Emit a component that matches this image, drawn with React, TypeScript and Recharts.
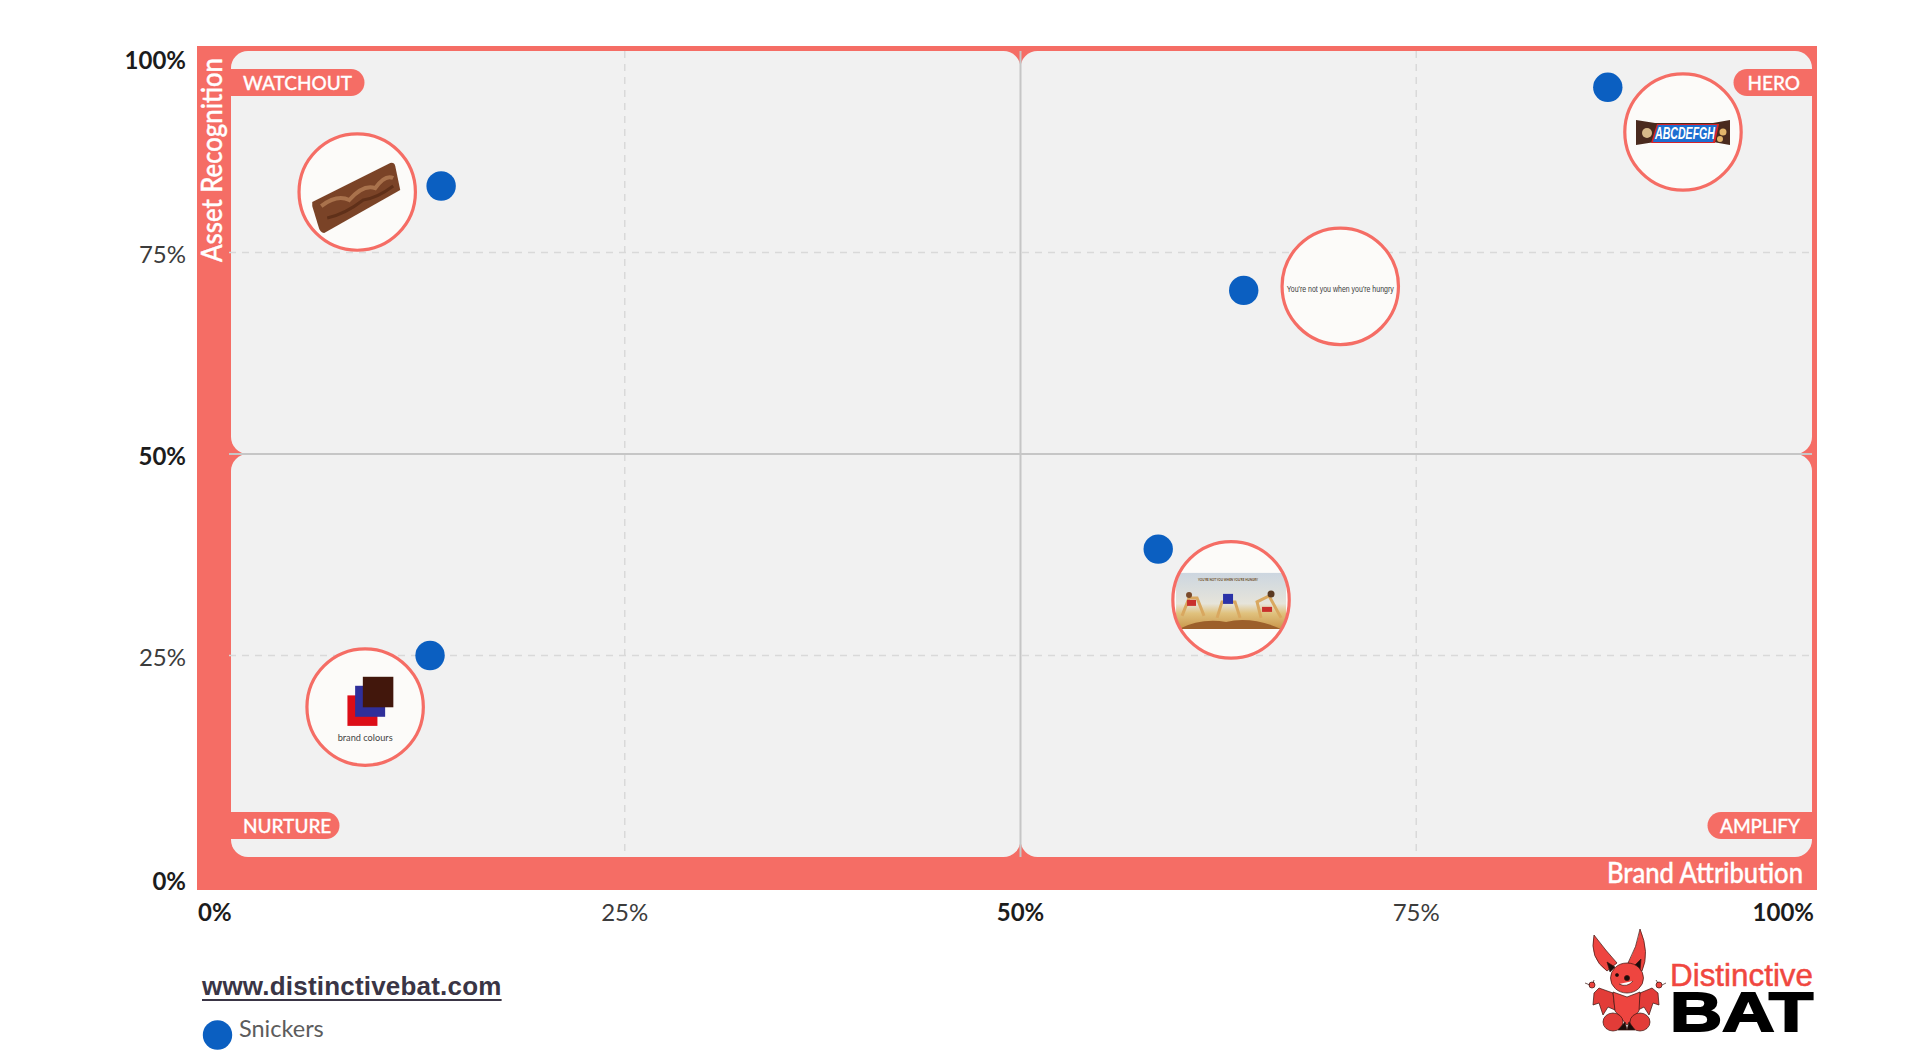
import React from 'react';
import { ScatterChart, Scatter, XAxis, YAxis, CartesianGrid, ReferenceArea, ReferenceLine, Legend } from 'recharts';

const brandName = 'Snickers';
const siteUrl = 'www.distinctivebat.com';
const xTitle = 'Brand Attribution';
const yTitle = 'Asset Recognition';

const axisTicks = [0, 25, 50, 75, 100];
const gridValues = [25, 75];

// brand attribution / asset recognition per asset
const assetX = [13.4, 87.1, 64.1, 58.7, 12.7];
const assetY = [83.25, 95.5, 70.3, 38.2, 25];

// where the asset thumbnails sit
const thumbKinds = ['bar', 'wrapper', 'tagline', 'ad', 'colours'];
const thumbX = [8.1, 91.85, 70.2, 63.3, 8.6];
const thumbY = [82.5, 89.95, 70.8, 31.9, 18.6];

const quadrantNames = ['WATCHOUT', 'HERO', 'NURTURE', 'AMPLIFY'];
const quadrantX1 = [0, 50, 0, 50];
const quadrantX2 = [50, 100, 50, 100];
const quadrantY1 = [50, 50, 0, 0];
const quadrantY2 = [100, 100, 50, 50];

const RED = '#f56d65';
const BLUE = '#0b5fc1';
const FONT = 'Lato, sans-serif';

const assets = assetX.map((x, i) => ({ x, y: assetY[i] }));
const thumbs = thumbX.map((x, i) => ({ x, y: thumbY[i], kind: thumbKinds[i] }));

function FrameShape({ x, y, width, height }: any) {
  return <rect x={x - 32} y={y - 5} width={width + 37} height={height + 38} fill={RED} />;
}

// quadrant panel, square only on the corner that meets the chart centre
function QuadrantShape({ x, y, width, height, index }: any) {
  const R = 17;
  const left = index % 2 === 0;
  const top = index < 2;
  const x1 = left ? x + 2 : x;
  const x2 = x + width;
  const y2 = y + height;
  const tl = !left && !top ? 0 : R;
  const tr = left && !top ? 0 : R;
  const br = left && top ? 0 : R;
  const bl = !left && top ? 0 : R;
  const d = [
    `M${x1 + tl},${y}`,
    `H${x2 - tr}`,
    `A${tr},${tr} 0 0 1 ${x2},${y + tr}`,
    `V${y2 - br}`,
    `A${br},${br} 0 0 1 ${x2 - br},${y2}`,
    `H${x1 + bl}`,
    `A${bl},${bl} 0 0 1 ${x1},${y2 - bl}`,
    `V${y + tl}`,
    `A${tl},${tl} 0 0 1 ${x1 + tl},${y}`,
    'Z',
  ].join(' ');
  return <path d={d} fill="#f1f1f1" />;
}

function PillShape({ x, y, width, height, index }: any) {
  const left = index % 2 === 0;
  const top = index < 2;
  const pillW = [133, 78, 108, 104][index];
  const pillY = top ? y + 18 : y + height - 45;
  const pillX = left ? x + 2 : x + width - pillW;
  const h = 27;
  const d = left
    ? `M${pillX},${pillY} H${pillX + pillW - 13} A13.5,13.5 0 0 1 ${pillX + pillW - 13},${pillY + h} H${pillX} Z`
    : `M${pillX + pillW},${pillY} H${pillX + 13} A13.5,13.5 0 0 0 ${pillX + 13},${pillY + h} H${pillX + pillW} Z`;
  return (
    <g>
      <path d={d} fill={RED} />
      <text
        x={left ? pillX + 12 : pillX + pillW - 12}
        y={pillY + h / 2 + 2.5}
        textAnchor={left ? 'start' : 'end'}
        dominantBaseline="middle"
        fill="#fff"
        stroke="#fff"
        strokeWidth={0.3}
        fontFamily={FONT}
        fontSize={19}
        fontWeight={500}
      >
        {quadrantNames[index]}
      </text>
    </g>
  );
}

function TitlesShape({ x, y, width, height }: any) {
  return (
    <g fill="#fff" stroke="#fff" strokeWidth={0.4} fontFamily={FONT} fontWeight={500} fontSize={28}>
      <text x={x + width - 9} y={y + height + 26} textAnchor="end" textLength={196} lengthAdjust="spacingAndGlyphs">
        {xTitle}
      </text>
      <text
        transform={`translate(${x - 7},${y + 211}) rotate(-90)`}
        textLength={204}
        lengthAdjust="spacingAndGlyphs"
      >
        {yTitle}
      </text>
    </g>
  );
}

function XTick({ x, y, payload, index }: any) {
  const v = payload.value;
  const anchor = index === 0 ? 'start' : v === 100 ? 'end' : 'middle';
  const dx = index === 0 ? -31 : v === 100 ? 2 : 0;
  const major = v % 50 === 0;
  return (
    <text
      x={x + dx}
      y={y + 50}
      textAnchor={anchor}
      dominantBaseline="middle"
      fontFamily={FONT}
      fontSize={24}
      fontWeight={major ? 700 : 400}
      fill={major ? '#1c1c1c' : '#3c3c3c'}
    >
      {v}%
    </text>
  );
}

function YTick({ x, y, payload }: any) {
  const v = payload.value;
  const dy = v === 0 ? 26.5 : v === 100 ? 11.5 : 4.5;
  const major = v % 50 === 0;
  return (
    <text
      x={x - 35}
      y={y + dy}
      textAnchor="end"
      dominantBaseline="middle"
      fontFamily={FONT}
      fontSize={24}
      fontWeight={major ? 700 : 400}
      fill={major ? '#1c1c1c' : '#3c3c3c'}
    >
      {v}%
    </text>
  );
}

function AssetDot({ cx, cy }: any) {
  return <circle cx={cx} cy={cy} r={14.7} fill={BLUE} />;
}

function ThumbContent({ kind }: { kind: string }) {
  if (kind === 'bar') {
    return (
      <g>
        <path d="M-45,10 L33,-29 Q37,-30 38,-26 L43,-2 L-33,41 Q-36,41 -38,37 L-45,14 Z" fill="#7a4327" />
        <path d="M-36,14 Q-20,2 -8,8 Q6,-8 18,-4 Q28,-18 36,-14" fill="none" stroke="#a9724c" strokeWidth={4} />
        <path d="M-30,26 Q-12,22 6,8 Q20,6 36,-6" fill="none" stroke="#5f3019" strokeWidth={3} />
      </g>
    );
  }
  if (kind === 'wrapper') {
    return (
      <g>
        <path d="M-47,-12 L-28,-9 H30 L47,-12 V13 L30,10 H-28 L-47,13 Z" fill="#4a2a1e" />
        <path d="M-26,-8 H36 L32,11 H-32 Z" fill="#d8232a" />
        <path d="M-25,-7 H34 L30,10 H-30 Z" fill="#1d6fd1" />
        <text x={2} y={7} textAnchor="middle" fontFamily="Liberation Sans, sans-serif" fontStyle="italic" fontWeight={700} fontSize={17} fill="#fff" textLength={60} lengthAdjust="spacingAndGlyphs">
          ABCDEFGH
        </text>
        <circle cx={-36} cy={1} r={5} fill="#d8b98a" />
        <circle cx={40} cy={0} r={3.5} fill="#e3b56b" />
        <circle cx={37} cy={7} r={3} fill="#e3b56b" />
      </g>
    );
  }
  if (kind === 'tagline') {
    return (
      <text x={0} y={6} textAnchor="middle" fontFamily="Liberation Sans, sans-serif" fontSize={8.5} fill="#3a3a3a" textLength={107} lengthAdjust="spacingAndGlyphs">
        You're not you when you're hungry
      </text>
    );
  }
  if (kind === 'colours') {
    return (
      <g>
        <rect x={-17.7} y={-11.7} width={30} height={30.5} fill="#dc0d17" />
        <rect x={-10} y={-21.3} width={30} height={31} fill="#2f2f9a" />
        <rect x={-2.3} y={-30.3} width={30.5} height={30.5} fill="#42170c" />
        <text x={0} y={34} textAnchor="middle" fontFamily="Lato, sans-serif" fontSize={10} fill="#444" textLength={55} lengthAdjust="spacingAndGlyphs">
          brand colours
        </text>
      </g>
    );
  }
  return (
    <g>
      <defs>
        <linearGradient id="adSky" x1="0" y1="0" x2="0" y2="1">
          <stop offset="0" stopColor="#ccd6e0" />
          <stop offset="0.55" stopColor="#e6e4da" />
          <stop offset="0.72" stopColor="#e0c27e" />
          <stop offset="1" stopColor="#c9964a" />
        </linearGradient>
      </defs>
      <rect x={-55} y={-27} width={110} height={56} fill="url(#adSky)" />
      <path d="M-52,29 Q-30,18 -5,22 Q20,16 50,29 Z" fill="#9c5f2a" />
      <text x={-3} y={-19} textAnchor="middle" fontFamily="Lato, sans-serif" fontWeight={700} fontSize={4.5} fill="#6a4a20" textLength={60} lengthAdjust="spacingAndGlyphs">
        YOU'RE NOT YOU WHEN YOU'RE HUNGRY
      </text>
      <path d="M-49,16 L-42,-2 L-34,-2 L-27,16" fill="none" stroke="#d9a860" strokeWidth={3} />
      <circle cx={-42} cy={-5} r={3} fill="#7a4a2a" />
      <rect x={-44} y={0} width={9} height={6} fill="#c9302c" />
      <path d="M-14,18 L-9,2 L4,2 L9,18" fill="none" stroke="#d9a860" strokeWidth={3} />
      <rect x={-8} y={-6} width={10} height={10} fill="#2a32a8" />
      <path d="M30,18 L26,2 L38,-4 L50,18" fill="none" stroke="#d9a860" strokeWidth={3} />
      <circle cx={40} cy={-6} r={3.5} fill="#5a3a22" />
      <rect x={31} y={7} width={10} height={5} fill="#c9302c" />
    </g>
  );
}

function ThumbShape({ cx, cy, payload }: any) {
  const id = `thumbClip${payload.kind}`;
  return (
    <g transform={`translate(${cx},${cy})`}>
      <defs>
        <clipPath id={id}>
          <circle r={58} />
        </clipPath>
      </defs>
      <circle r={58} fill="#fcfbf9" />
      <g clipPath={`url(#${id})`}>
        <ThumbContent kind={payload.kind} />
      </g>
      <circle r={58.2} fill="none" stroke={RED} strokeWidth={3.2} />
    </g>
  );
}

// the logo is drawn in its own little box, bottom right of the page
function LogoShape({ x, y, width, height }: any) {
  const ox = x + width - 232;
  const oy = y + height + 68;
  return (
    <g>
      <g transform={`translate(${ox},${oy})`} stroke="#3a1410" strokeWidth={0.7} strokeLinejoin="round">
        <path d="M14,10 Q9,33 27,46 L37,38 Q26,26 14,10 Z" fill="#ee4540" />
        <path d="M60,4 Q70,28 62,46 L48,38 Q57,22 60,4 Z" fill="#ee4540" />
        <path d="M27,37 L35,42 L30,47 Z" fill="#1b0c0a" />
        <path d="M61,34 L54,41 L60,46 Z" fill="#1b0c0a" />
        <path d="M33,68 L19,63 L14,68 L13,80 L19,78 L23,90 L28,82 L35,85 Z" fill="#e23c38" />
        <path d="M60,68 L72,63 L78,68 L79,80 L73,78 L69,90 L64,82 L58,85 Z" fill="#e23c38" />
        <path d="M33,67 L47,72 L60,67 L59,86 L47,100 L35,86 Z" fill="#ee4540" />
        <ellipse cx={33} cy={97} rx={10} ry={9} fill="#e23c38" />
        <ellipse cx={60} cy={97} rx={10} ry={9} fill="#e23c38" />
        <path d="M38,105 L45,97 L47,105 Z M55,105 L49,97 L47,105 Z" fill="#1b0c0a" />
        <circle cx={12} cy={60} r={3} fill="#ee4540" />
        <circle cx={79} cy={60} r={3} fill="#ee4540" />
        <path d="M5,58 L10,60 M14,55 L13,58 M86,58 L82,60 M76,55 L78,58" fill="none" />
        <ellipse cx={47} cy={53} rx={16.5} ry={15} fill="#ee4540" />
        <circle cx={47} cy={53} r={2.6} fill="#1b0c0a" />
        <circle cx={37} cy={50} r={1.6} fill="#1b0c0a" />
        <path d="M39,59 Q47,63 53,56" fill="#fff" />
      </g>
      <text x={ox + 90} y={oy + 61} fontFamily="Liberation Sans, sans-serif" fontSize={32} fill="#f0473f" stroke="#f0473f" strokeWidth={0.5} textLength={143} lengthAdjust="spacingAndGlyphs">
        Distinctive
      </text>
      <text x={ox + 90} y={oy + 106} fontFamily="Liberation Sans, sans-serif" fontWeight={700} fontSize={56} fill="#000" stroke="#000" strokeWidth={2} textLength={143} lengthAdjust="spacingAndGlyphs">
        BAT
      </text>
    </g>
  );
}

function LegendBlock() {
  return (
    <div style={{ width: 320 }}>
      <div
        style={{
          fontFamily: 'Liberation Sans, sans-serif',
          fontWeight: 700,
          fontSize: 26,
          lineHeight: '32px',
          letterSpacing: 0.2,
          color: '#3a3545',
          textDecoration: 'underline',
          textUnderlineOffset: 4,
        }}
      >
        {siteUrl}
      </div>
      <div style={{ position: 'relative', marginTop: 11, height: 36 }}>
        <svg width={32} height={32} style={{ position: 'absolute', left: 0, top: 7 }}>
          <circle cx={15.5} cy={15} r={14.7} fill={BLUE} />
        </svg>
        <span
          style={{
            position: 'absolute',
            left: 37,
            top: 0,
            fontFamily: 'Lato, sans-serif',
            fontSize: 23.5,
            lineHeight: '30px',
            color: '#5c5c5c',
          }}
        >
          {brandName}
        </span>
      </div>
    </div>
  );
}

export default function App() {
  return (
    <div style={{ position: 'absolute', left: 0, top: 0, width: 1920, height: 1054, background: '#fff' }}>
      <ScatterChart width={1920} height={1054} margin={{ top: 51, left: 169, right: 108, bottom: 137 }}>
        <ReferenceArea x1={0} x2={100} y1={0} y2={100} shape={FrameShape} ifOverflow="visible" zIndex={-300} />
        {quadrantNames.map((name, i) => (
          <ReferenceArea
            key={name}
            x1={quadrantX1[i]}
            x2={quadrantX2[i]}
            y1={quadrantY1[i]}
            y2={quadrantY2[i]}
            shape={(p: any) => <QuadrantShape {...p} index={i} />}
            zIndex={-200}
          />
        ))}
        <CartesianGrid strokeDasharray="7 6" stroke="#d9d9d9" strokeWidth={1.5} horizontalValues={gridValues} verticalValues={gridValues} />
        <ReferenceLine x={50} stroke="#c6c6c6" strokeWidth={2} />
        <ReferenceLine y={50} stroke="#c6c6c6" strokeWidth={2} />
        {quadrantNames.map((name, i) => (
          <ReferenceArea
            key={`pill-${name}`}
            x1={quadrantX1[i]}
            x2={quadrantX2[i]}
            y1={quadrantY1[i]}
            y2={quadrantY2[i]}
            shape={(p: any) => <PillShape {...p} index={i} />}
          />
        ))}
        <ReferenceArea x1={0} x2={100} y1={0} y2={100} shape={TitlesShape} ifOverflow="visible" />
        <ReferenceArea x1={0} x2={100} y1={0} y2={100} shape={LogoShape} ifOverflow="visible" />
        <XAxis type="number" dataKey="x" domain={[0, 100]} ticks={axisTicks} interval={0} height={60} axisLine={false} tickLine={false} tick={XTick} />
        <YAxis type="number" dataKey="y" domain={[0, 100]} ticks={axisTicks} interval={0} width={60} axisLine={false} tickLine={false} tick={YTick} />
        <Legend
          layout="horizontal"
          verticalAlign="middle"
          align="center"
          content={LegendBlock}
          wrapperStyle={{ position: 'absolute', left: 202, top: 970, width: 320, bottom: 'auto', right: 'auto' }}
        />
        <Scatter name="thumbnails" data={thumbs} shape={ThumbShape} legendType="none" isAnimationActive={false} />
        <Scatter name={brandName} data={assets} shape={AssetDot} isAnimationActive={false} />
      </ScatterChart>
    </div>
  );
}
